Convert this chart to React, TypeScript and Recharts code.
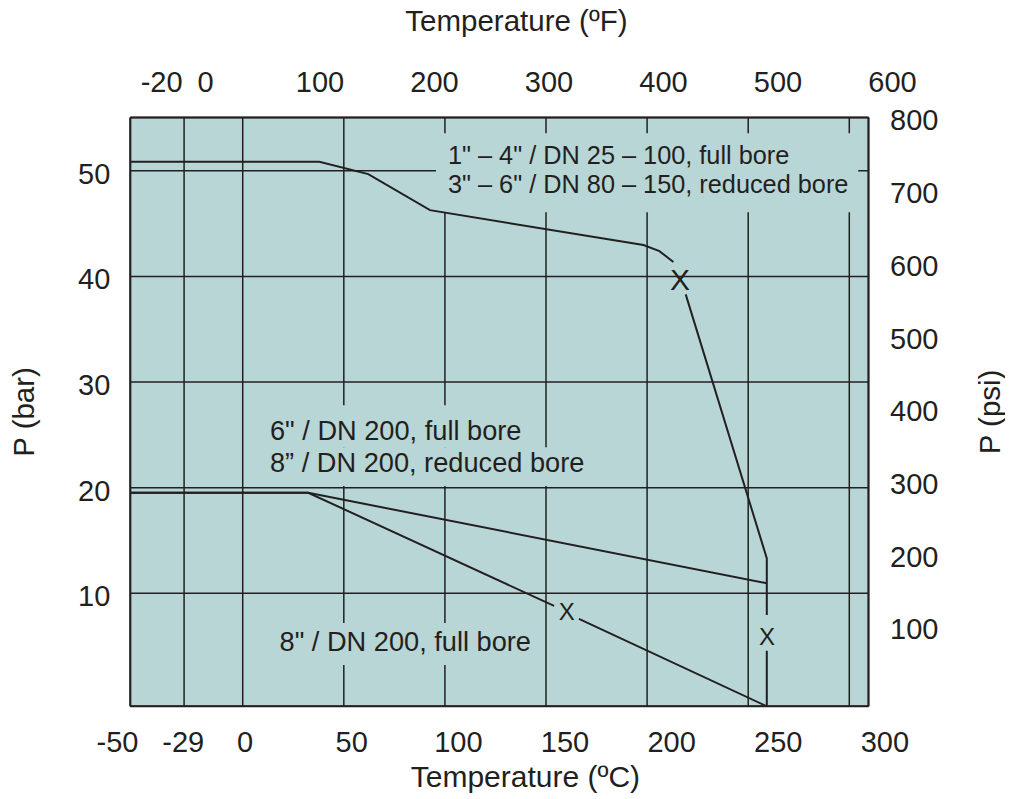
import React from 'react';
import {
  LineChart,
  Line,
  XAxis,
  YAxis,
  CartesianGrid,
  ReferenceArea,
  ReferenceDot,
} from 'recharts';

// ---------- data ----------
// temperatures in °C (grid scale), pressures in bar; null = gap at an "X" mark
const upperTemps = [-55.6, 37.9, 62.1, 92.6, 198.2, 206.1, 213.0, 216.3, 219.1, 259.2, 259.2, 259.2, 259.2, 259.2];
const upperBar = [50.85, 50.85, 49.69, 46.28, 42.97, 42.4, 41.36, null, 38.3, 13.31, 7.95, null, 4.57, -0.7];

const midTemps = [-55.6, 32.4, 259.2];
const midBar = [19.52, 19.52, 10.95];

const lowTemps = [-55.6, 32.4, 154.0, 160.3, 166.3, 259.2];
const lowBar = [19.52, 19.52, 8.8, null, 7.57, -0.7];

const gridTempTicks = [-29, 0, 50, 100, 150, 200, 250, 300];
const celsiusLabels = [-50, -29, 0, 50, 100, 150, 200, 250, 300];
const fahrenheitLabels = [-20, 0, 100, 200, 300, 400, 500, 600];
const barTicks = [10, 20, 30, 40, 50];
const psiTicks = [100, 200, 300, 400, 500, 600, 700, 800];

const curveNotes = [
  '1" – 4" / DN 25 – 100, full bore',
  '3" – 6" / DN 80 – 150, reduced bore',
  '6" / DN 200, full bore',
  '8” / DN 200, reduced bore',
  '8" / DN 200, full bore',
];

// ---------- layout (annotation anchors in data units) ----------
const noteAnchors = [
  { t: 101.5, p: 51.48, size: 25.3 },
  { t: 101.5, p: 48.77, size: 25.3 },
  { t: 13.5, p: 25.41, size: 27.2 },
  { t: 13.5, p: 22.38, size: 27.2 },
  { t: 18.2, p: 5.42, size: 27.2 },
];
const noteBoxes = [
  { t1: 95.6, t2: 304.4, p1: 46.09, p2: 53.57 },
  { t1: 9.5, t2: 142.1, p1: 23.83, p2: 27.81 },
  { t1: 9.5, t2: 173.8, p1: 20.16, p2: 23.83 },
  { t1: 13.5, t2: 147.1, p1: 3.21, p2: 7.19 },
];
const xMarks = [
  { t: 216.3, p: 39.72, size: 30 },
  { t: 160.3, p: 8.26, size: 24 },
  { t: 259.3, p: 5.89, size: 24 },
];

const INK = '#231f20';
const PLOT_BG = '#b8d6d6';
const FONT = '"Liberation Sans", Arial, Helvetica, sans-serif';
const TICK_SIZE = 29;

const toPoints = (ts: number[], ps: (number | null)[]) => ts.map((t, i) => ({ t, p: ps[i] }));

const TopTick = (props: any) => {
  const { x, y, payload } = props;
  return (
    <text x={x} y={y - 25.8} textAnchor={payload.value < 0 ? 'end' : 'middle'} fontSize={TICK_SIZE} fill={INK} fontFamily={FONT}>
      {payload.value}
    </text>
  );
};
const BottomTick = (props: any) => {
  const { x, y, payload } = props;
  return (
    <text x={x} y={y + 45.4} textAnchor={payload.value === -50 ? 'end' : 'middle'} fontSize={TICK_SIZE} fill={INK} fontFamily={FONT}>
      {payload.value}
    </text>
  );
};
const LeftTick = (props: any) => {
  const { x, y, payload } = props;
  return (
    <text x={x - 20} y={y + 13} textAnchor="end" fontSize={TICK_SIZE} fill={INK} fontFamily={FONT}>
      {payload.value}
    </text>
  );
};
const RightTick = (props: any) => {
  const { x, y, payload } = props;
  return (
    <text x={x + 21.5} y={y + 10.3} textAnchor="start" fontSize={TICK_SIZE} fill={INK} fontFamily={FONT}>
      {payload.value}
    </text>
  );
};

export default function App() {
  const upper = toPoints(upperTemps, upperBar);
  const mid = toPoints(midTemps, midBar);
  const low = toPoints(lowTemps, lowBar);
  const border = { stroke: INK, strokeWidth: 2 };

  return (
    <div style={{ width: 997, height: 798, marginTop: -8, fontFamily: FONT }}>
      <LineChart width={997} height={798} data={upper} margin={{ top: 0, right: 0, bottom: 0, left: 0 }}>
        <CartesianGrid xAxisId="c" yAxisId="bar" stroke={INK} strokeWidth={1.5} fill={PLOT_BG} fillOpacity={1} />
        <XAxis
          xAxisId="cl"
          orientation="bottom"
          type="number"
          dataKey="t"
          domain={[-53.8, 292.3]}
          allowDataOverflow
          ticks={celsiusLabels}
          interval={0}
          tickSize={0}
          tickMargin={0}
          tickLine={false}
          axisLine={border}
          height={91.7}
          tick={(p: any) => <BottomTick {...p} />}
          label={{ value: 'Temperature (ºC)', position: 'insideBottom', offset: 11.3, dx: 26, fontSize: 30, fill: INK, fontFamily: FONT }}
        />
        <XAxis
          xAxisId="f"
          orientation="top"
          type="number"
          dataKey="t"
          domain={[-65.7, 579]}
          allowDataOverflow
          ticks={fahrenheitLabels}
          interval={0}
          tickSize={0}
          tickMargin={0}
          tickLine={false}
          axisLine={border}
          height={117.5}
          tick={(p: any) => <TopTick {...p} />}
          label={{ value: 'Temperature (ºF)', position: 'insideTop', offset: 10, dx: 17, fontSize: 29.5, fill: INK, fontFamily: FONT }}
        />
        <XAxis
          xAxisId="c"
          type="number"
          dataKey="t"
          domain={[-55.6, 309.5]}
          allowDataOverflow
          ticks={gridTempTicks}
          interval={0}
          height={0}
          hide
        />
        <YAxis
          yAxisId="bar"
          type="number"
          domain={[-0.7, 55.05]}
          allowDataOverflow
          ticks={barTicks}
          interval={0}
          tickSize={0}
          tickMargin={0}
          tickLine={false}
          axisLine={border}
          width={122.3}
          tick={(p: any) => <LeftTick {...p} />}
          label={{ value: 'P (bar)', angle: -90, position: 'insideLeft', offset: 15.3, fontSize: 29.5, fill: INK, fontFamily: FONT, style: { textAnchor: 'middle' } }}
        />
        <YAxis
          yAxisId="psi"
          orientation="right"
          type="number"
          domain={[-6.3, 803.6]}
          allowDataOverflow
          ticks={psiTicks}
          interval={0}
          tickSize={0}
          tickMargin={0}
          tickLine={false}
          axisLine={border}
          width={136.5}
          tick={(p: any) => <RightTick {...p} />}
          label={{ value: 'P (psi)', angle: -90, position: 'insideRight', offset: 15, fontSize: 29.5, fill: INK, fontFamily: FONT, style: { textAnchor: 'middle' } }}
        />
        {noteBoxes.map((b, i) => (
          <ReferenceArea
            key={`box-${i}`}
            xAxisId="c"
            yAxisId="bar"
            x1={b.t1}
            x2={b.t2}
            y1={b.p1}
            y2={b.p2}
            fill={PLOT_BG}
            fillOpacity={1}
            stroke="none"
          />
        ))}
        <Line xAxisId="c" yAxisId="bar" data={upper} dataKey="p" type="linear" stroke={INK} strokeWidth={2} dot={false} activeDot={false} isAnimationActive={false} connectNulls={false} />
        <Line xAxisId="c" yAxisId="bar" data={mid} dataKey="p" type="linear" stroke={INK} strokeWidth={2} dot={false} activeDot={false} isAnimationActive={false} connectNulls={false} />
        <Line xAxisId="c" yAxisId="bar" data={low} dataKey="p" type="linear" stroke={INK} strokeWidth={2} dot={false} activeDot={false} isAnimationActive={false} connectNulls={false} />
        {curveNotes.map((text, i) => (
          <ReferenceDot
            key={`note-${i}`}
            xAxisId="c"
            yAxisId="bar"
            x={noteAnchors[i].t}
            y={noteAnchors[i].p}
            r={0}
            fill="none"
            stroke="none"
            label={{ value: text, position: 'right', offset: 0, fontSize: noteAnchors[i].size, fill: INK, fontFamily: FONT }}
          />
        ))}
        {xMarks.map((m, i) => (
          <ReferenceDot
            key={`x-${i}`}
            xAxisId="c"
            yAxisId="bar"
            x={m.t}
            y={m.p}
            r={0}
            fill="none"
            stroke="none"
            label={{ value: 'X', position: 'center', offset: 0, fontSize: m.size, fill: INK, fontFamily: FONT }}
          />
        ))}
      </LineChart>
    </div>
  );
}
